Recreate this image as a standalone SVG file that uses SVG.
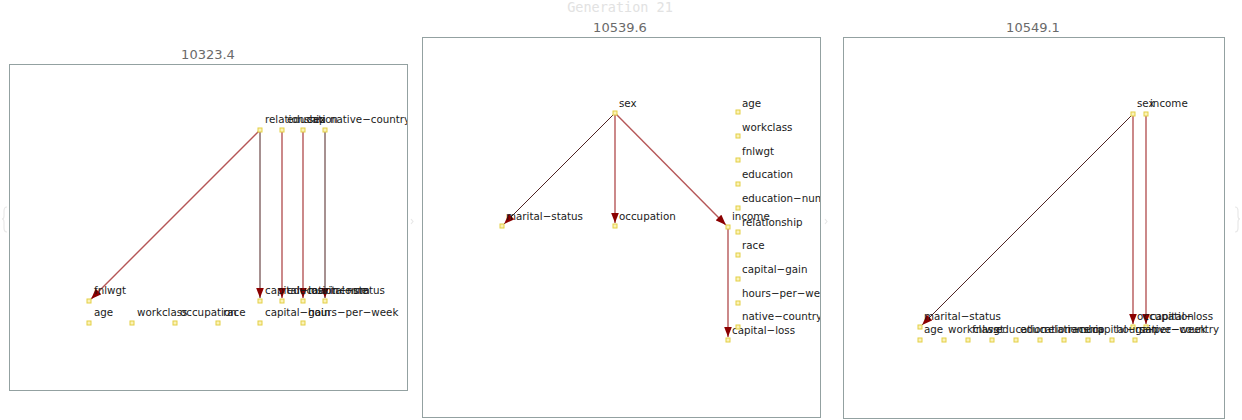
<svg xmlns="http://www.w3.org/2000/svg" width="1242" height="420" viewBox="0 0 1242 420">
<style>
.bg{fill:#fff}
.panel{fill:#fff;stroke:#93a1a1;stroke-width:1}
.title{font-family:"DejaVu Sans","Liberation Sans",sans-serif;font-size:13px;fill:#6a6a6a;text-anchor:middle}
.gen{font-family:"DejaVu Sans Mono","Liberation Mono",monospace;font-size:13.5px;fill:#e2e2e2;text-anchor:middle}
.lbl{font-family:"DejaVu Sans","Liberation Sans",sans-serif;font-size:10.3px;fill:#1a1a1a}
.nd{fill:#fbf2b8;stroke:#e3cf45;stroke-width:1}
.er{stroke:#a8383a;stroke-opacity:0.85;stroke-width:1.4;fill:none;marker-end:url(#ah)}
.ed{stroke:#3a0a0a;stroke-width:0.9;fill:none;marker-end:url(#ah)}
.faint{stroke:#e8e8e8;stroke-width:1.2;fill:none}
</style>
<defs>
<marker id="ah" markerUnits="userSpaceOnUse" markerWidth="11" markerHeight="8" refX="10.5" refY="4" orient="auto">
<path d="M0,0 L10.5,4 L0,8 z" fill="#8b0000"/>
</marker>
<clipPath id="c1"><rect x="10" y="65" width="397" height="325"/></clipPath>
<clipPath id="c2"><rect x="423" y="38" width="397" height="379"/></clipPath>
<clipPath id="c3"><rect x="844" y="38" width="380" height="380"/></clipPath>
</defs>
<rect class="bg" x="0" y="0" width="1242" height="420"/>
<text class="gen" x="620" y="12">Generation 21</text>
<path class="faint" d="M7,207 Q4,207 4,211 L4,216 Q4,219 2,219 Q4,219 4,222 L4,228 Q4,232 7,232"/>
<path class="faint" d="M411,219 L413,221.5 L411,224"/>
<path class="faint" d="M825,219 L827,221.5 L825,224"/>
<path class="faint" d="M1235,207 Q1238,207 1238,211 L1238,216 Q1238,219 1240,219 Q1238,219 1238,222 L1238,228 Q1238,232 1235,232"/>

<!-- Panel 1 -->
<g id="panel1">
<text class="title" x="208" y="59">10323.4</text>
<rect class="panel" x="9.5" y="64.5" width="398" height="326"/>
<g clip-path="url(#c1)">
<g id="p1-edges">
<line class="er" x1="260" y1="130" x2="91.1" y2="298.9"/>
<line class="ed" x1="260" y1="130" x2="260" y2="298"/>
<line class="er" x1="282" y1="130" x2="282" y2="298"/>
<line class="er" x1="303" y1="130" x2="303" y2="298"/>
<line class="ed" x1="325" y1="130" x2="325" y2="298"/>
</g>
<g id="p1-relationship"><rect class="nd" x="258" y="128" width="4" height="4"/><text class="lbl" x="265" y="123">relationship</text></g>
<g id="p1-education"><rect class="nd" x="280" y="128" width="4" height="4"/><text class="lbl" x="287" y="123">education</text></g>
<g id="p1-sex"><rect class="nd" x="301" y="128" width="4" height="4"/><text class="lbl" x="308" y="123">sex</text></g>
<g id="p1-native-country"><rect class="nd" x="323" y="128" width="4" height="4"/><text class="lbl" x="330" y="123">native−country</text></g>
<g id="p1-fnlwgt"><rect class="nd" x="87" y="299" width="4" height="4"/><text class="lbl" x="94" y="294">fnlwgt</text></g>
<g id="p1-capital-loss"><rect class="nd" x="258" y="299" width="4" height="4"/><text class="lbl" x="265" y="294">capital−loss</text></g>
<g id="p1-education-num"><rect class="nd" x="280" y="299" width="4" height="4"/><text class="lbl" x="287" y="294">education−num</text></g>
<g id="p1-marital-status"><rect class="nd" x="301" y="299" width="4" height="4"/><text class="lbl" x="308" y="294">marital−status</text></g>
<g id="p1-income"><rect class="nd" x="323" y="299" width="4" height="4"/><text class="lbl" x="330" y="294">income</text></g>
<g id="p1-age"><rect class="nd" x="87" y="321" width="4" height="4"/><text class="lbl" x="94" y="316">age</text></g>
<g id="p1-workclass"><rect class="nd" x="130" y="321" width="4" height="4"/><text class="lbl" x="137" y="316">workclass</text></g>
<g id="p1-occupation"><rect class="nd" x="173" y="321" width="4" height="4"/><text class="lbl" x="180" y="316">occupation</text></g>
<g id="p1-race"><rect class="nd" x="216" y="321" width="4" height="4"/><text class="lbl" x="223" y="316">race</text></g>
<g id="p1-capital-gain"><rect class="nd" x="258" y="321" width="4" height="4"/><text class="lbl" x="265" y="316">capital−gain</text></g>
<g id="p1-hours-per-week"><rect class="nd" x="301" y="321" width="4" height="4"/><text class="lbl" x="308" y="316">hours−per−week</text></g>
</g>
</g>

<!-- Panel 2 -->
<g id="panel2">
<text class="title" x="620" y="32">10539.6</text>
<rect class="panel" x="422.5" y="37.5" width="398" height="380"/>
<g clip-path="url(#c2)">
<g id="p2-edges">
<line class="ed" x1="615" y1="113" x2="504.1" y2="223.9"/>
<line class="er" x1="615" y1="113" x2="615" y2="223"/>
<line class="er" x1="615" y1="113" x2="725.9" y2="224.9"/>
<line class="er" x1="728" y1="227" x2="728" y2="337"/>
</g>
<g id="p2-sex"><rect class="nd" x="613" y="111" width="4" height="4"/><text class="lbl" x="619" y="107">sex</text></g>
<g id="p2-marital-status"><rect class="nd" x="500" y="224" width="4" height="4"/><text class="lbl" x="506" y="220">marital−status</text></g>
<g id="p2-occupation"><rect class="nd" x="613" y="224" width="4" height="4"/><text class="lbl" x="619" y="220">occupation</text></g>
<g id="p2-income"><rect class="nd" x="726" y="225" width="4" height="4"/><text class="lbl" x="732" y="220">income</text></g>
<g id="p2-capital-loss"><rect class="nd" x="726" y="338" width="4" height="4"/><text class="lbl" x="732" y="334">capital−loss</text></g>
<g id="p2-age"><rect class="nd" x="736" y="110" width="4" height="4"/><text class="lbl" x="742" y="107">age</text></g>
<g id="p2-workclass"><rect class="nd" x="736" y="134" width="4" height="4"/><text class="lbl" x="742" y="131">workclass</text></g>
<g id="p2-fnlwgt"><rect class="nd" x="736" y="158" width="4" height="4"/><text class="lbl" x="742" y="155">fnlwgt</text></g>
<g id="p2-education"><rect class="nd" x="736" y="182" width="4" height="4"/><text class="lbl" x="742" y="178">education</text></g>
<g id="p2-education-num"><rect class="nd" x="736" y="206" width="4" height="4"/><text class="lbl" x="742" y="202">education−num</text></g>
<g id="p2-relationship"><rect class="nd" x="736" y="230" width="4" height="4"/><text class="lbl" x="742" y="226">relationship</text></g>
<g id="p2-race"><rect class="nd" x="736" y="253" width="4" height="4"/><text class="lbl" x="742" y="249">race</text></g>
<g id="p2-capital-gain"><rect class="nd" x="736" y="277" width="4" height="4"/><text class="lbl" x="742" y="273">capital−gain</text></g>
<g id="p2-hours-per-week"><rect class="nd" x="736" y="301" width="4" height="4"/><text class="lbl" x="742" y="297">hours−per−week</text></g>
<g id="p2-native-country"><rect class="nd" x="736" y="325" width="4" height="4"/><text class="lbl" x="742" y="320">native−country</text></g>
</g>
</g>

<!-- Panel 3 -->
<g id="panel3">
<text class="title" x="1033" y="32">10549.1</text>
<rect class="panel" x="843.5" y="37.5" width="381" height="381"/>
<g clip-path="url(#c3)">
<g id="p3-edges">
<line class="ed" x1="1133" y1="114" x2="922.1" y2="324.9"/>
<line class="er" x1="1133" y1="114" x2="1133" y2="324"/>
<line class="er" x1="1146" y1="114" x2="1146" y2="324"/>
</g>
<g id="p3-sex"><rect class="nd" x="1131" y="112" width="4" height="4"/><text class="lbl" x="1137" y="107">sex</text></g>
<g id="p3-income"><rect class="nd" x="1144" y="112" width="4" height="4"/><text class="lbl" x="1150" y="107">income</text></g>
<g id="p3-marital-status"><rect class="nd" x="918" y="325" width="4" height="4"/><text class="lbl" x="924" y="320">marital−status</text></g>
<g id="p3-occupation"><rect class="nd" x="1131" y="325" width="4" height="4"/><text class="lbl" x="1137" y="320">occupation</text></g>
<g id="p3-capital-loss"><rect class="nd" x="1144" y="325" width="4" height="4"/><text class="lbl" x="1150" y="320">capital−loss</text></g>
<g id="p3-age"><rect class="nd" x="918" y="338" width="4" height="4"/><text class="lbl" x="924" y="333">age</text></g>
<g id="p3-workclass"><rect class="nd" x="942" y="338" width="4" height="4"/><text class="lbl" x="948" y="333">workclass</text></g>
<g id="p3-fnlwgt"><rect class="nd" x="966" y="338" width="4" height="4"/><text class="lbl" x="972" y="333">fnlwgt</text></g>
<g id="p3-education"><rect class="nd" x="990" y="338" width="4" height="4"/><text class="lbl" x="996" y="333">education</text></g>
<g id="p3-education-num"><rect class="nd" x="1014" y="338" width="4" height="4"/><text class="lbl" x="1020" y="333">education−num</text></g>
<g id="p3-relationship"><rect class="nd" x="1038" y="338" width="4" height="4"/><text class="lbl" x="1044" y="333">relationship</text></g>
<g id="p3-race"><rect class="nd" x="1062" y="338" width="4" height="4"/><text class="lbl" x="1068" y="333">race</text></g>
<g id="p3-capital-gain"><rect class="nd" x="1086" y="338" width="4" height="4"/><text class="lbl" x="1092" y="333">capital−gain</text></g>
<g id="p3-hours-per-week"><rect class="nd" x="1110" y="338" width="4" height="4"/><text class="lbl" x="1116" y="333">hours−per−week</text></g>
<g id="p3-native-country"><rect class="nd" x="1133" y="338" width="4" height="4"/><text class="lbl" x="1139" y="333">native−country</text></g>
</g>
</g>
</svg>
